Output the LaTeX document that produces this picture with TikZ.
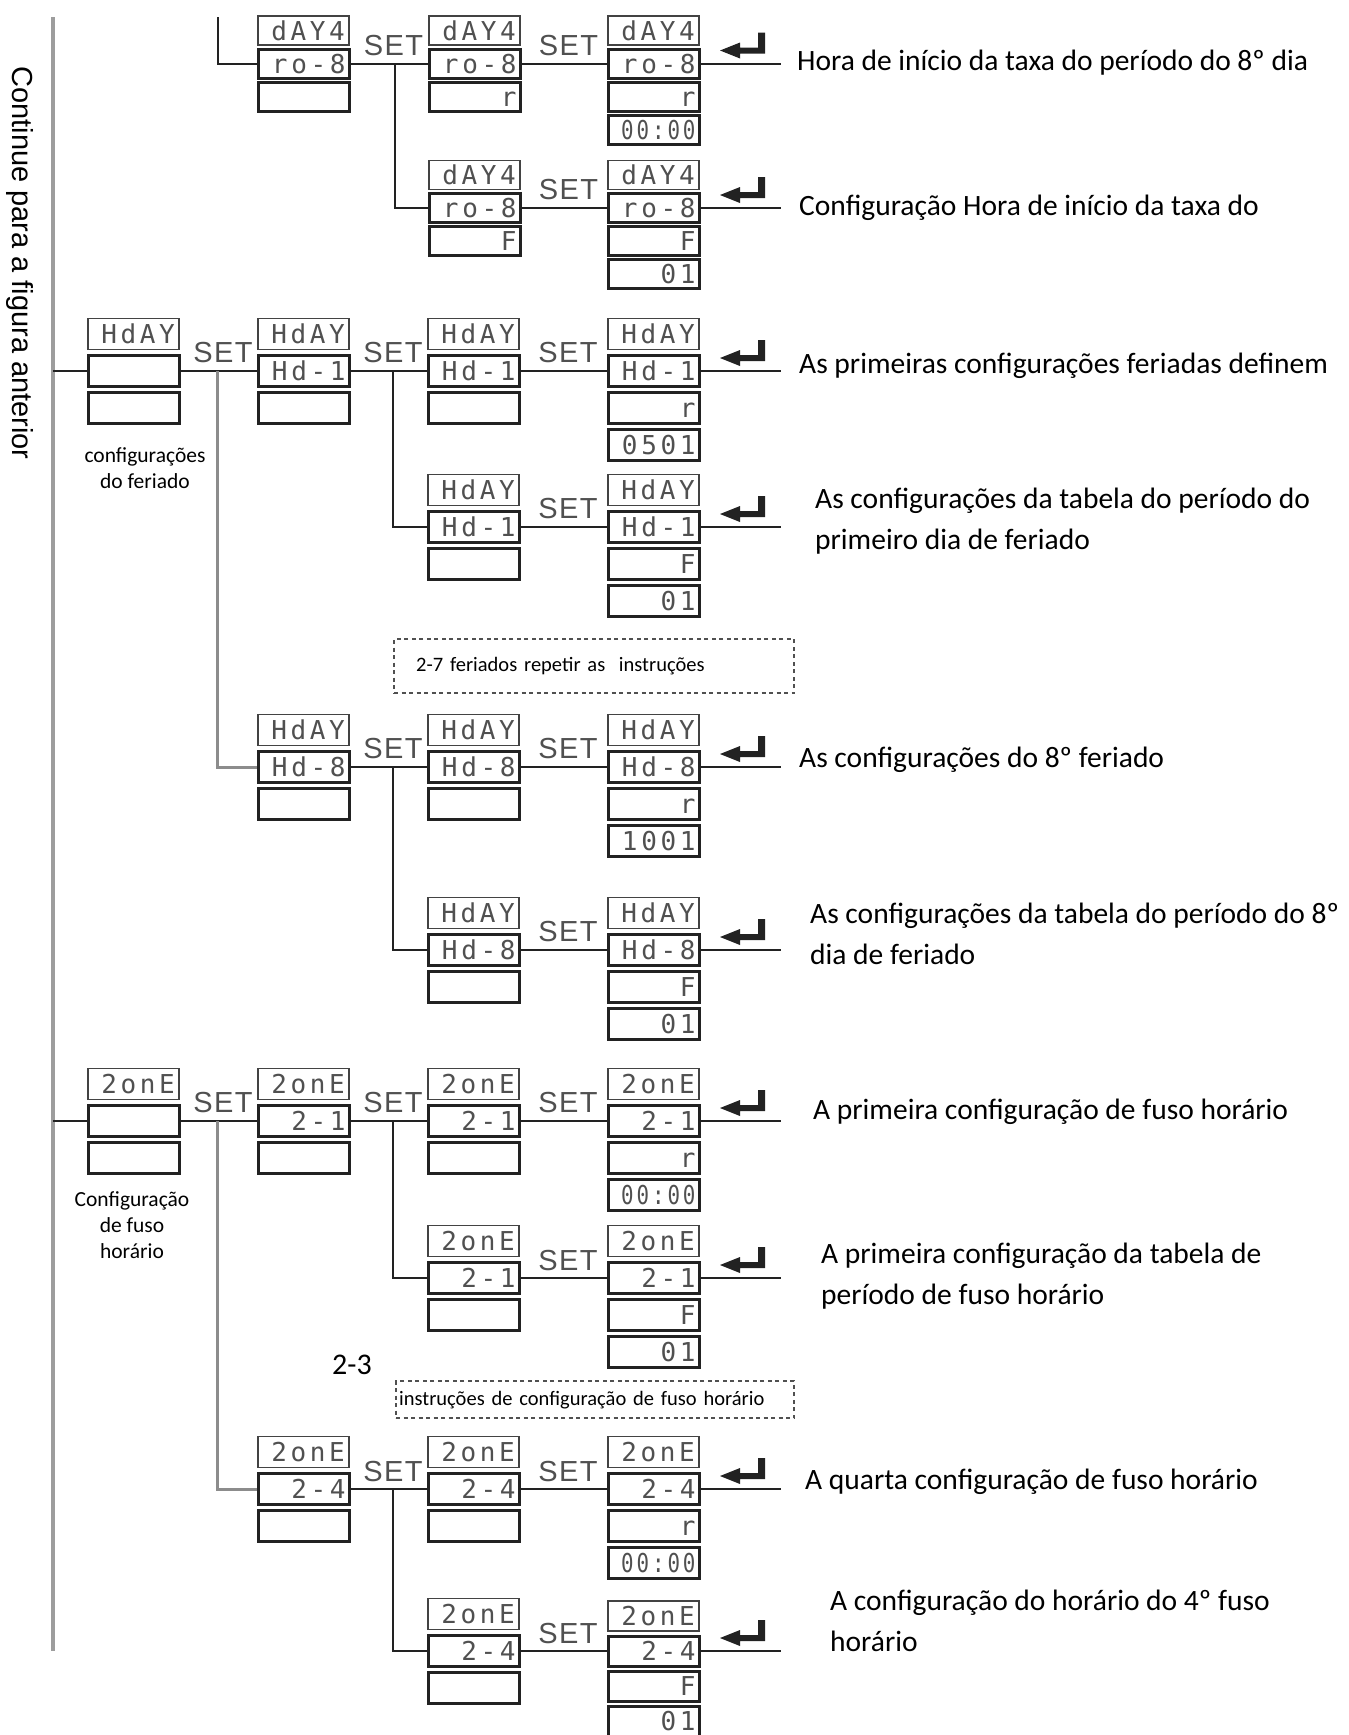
\documentclass[tikz,border=0pt]{standalone}
\usepackage{fontspec}
\usepackage{graphicx}
\setmainfont{Carlito}
\newfontfamily\lcdfont[LetterSpace=14]{DejaVu Sans Mono}
\newfontfamily\helv{Liberation Sans}
\newfontfamily\setfont[LetterSpace=5]{Liberation Sans}
\usetikzlibrary{calc}

\definecolor{ink}{HTML}{222222}
\definecolor{segink}{HTML}{505050}
\definecolor{spinegray}{HTML}{8C8C8C}

\tikzset{
  lcdbase/.style={draw, rectangle, inner xsep=4pt, inner ysep=0pt, text width=83pt,
    align=right, font=\lcdfont\fontsize{26}{26}\selectfont, text=segink,
    text height=19pt, text depth=0pt, anchor=west},
  lcdfirst/.style={lcdbase, line width=1.6pt, draw=ink!85},
  lcdrest/.style={lcdbase, line width=3pt, draw=ink},
  lcdrow/.code={\ifnum#1=1 \tikzset{lcdfirst}\else\tikzset{lcdrest}\fi},
  conn/.style={draw=ink, line width=2pt},
  graybranch/.style={draw=spinegray, line width=3pt},
  setlbl/.style={font=\setfont\fontsize{29}{29}\selectfont, text=segink, inner sep=0pt},
  note/.style={font=\fontsize{29.5}{41}\selectfont, text=black, align=left, anchor=west, inner sep=0pt},
  smalltxt/.style={font=\fontsize{21.5}{26}\selectfont, align=center, inner sep=0pt},
  dashbox/.style={draw=segink, dash pattern=on 4pt off 3.5pt, line width=2.4pt, rectangle,
    anchor=north west, align=left, font=\fontsize{20.5}{24}\selectfont},
}

% a stacked LCD display: name, left x, centre y of row 2, row pitch, row height, row texts
\newcommand\lcdbox[6]{%
  \foreach \txt [count=\k] in {#6}{%
    \node[lcdrow=\k, minimum height=#5pt] (#1-\k) at (#2, {#3+(\k-2)*#4}) {\txt};
  }}

% SET label between two displays, joined at row 2
\newcommand\setlink[3]{%
  \draw[conn] (#1-2.east) -- (#2-2.west);
  \node[setlbl] (#3) at ($(#1-2.east)!0.5!(#2-2.west)+(4,-18)$) {SET};
}

% lead-out line with the return symbol after a final display
\newcommand\enterlead[2]{%
  \coordinate (#2) at ($(#1-2.east)+(80,0)$);
  \draw[conn] (#1-2.east) -- (#2);
  \begin{scope}[shift={(#1-2.east)}]
    \fill[ink] (19,-13) -- (39,-21) -- (39,-16) -- (57,-16) -- (57,-31) -- (64,-31)
      -- (64,-10) -- (39,-10) -- (39,-5) -- cycle;
  \end{scope}
}

\newcommand\hhmm{\scalebox{0.8}[1]{00:00}}

\begin{document}
\begin{tikzpicture}[x=1pt, y=-1pt]
\fill[white] (0,0) rectangle (1349,1735);
\useasboundingbox (0,0) rectangle (1349,1735);

% side label and spine
\node[rotate=-90, font=\helv\fontsize{29}{29}\selectfont, inner sep=0pt] (cont) at (20,263)
  {Continue para a figura anterior};
\coordinate (spineTop) at (53,17);
\coordinate (spineBot) at (53,1651);
\draw[draw=spinegray!85, line width=4.5pt] (spineTop) -- (spineBot);

% ---------- 8th day rate table ----------
\lcdbox{D1}{257}{63.5}{33}{29}{dAY4,ro-8,{}}
\lcdbox{D2}{428}{63.5}{33}{29}{dAY4,ro-8,r}
\lcdbox{D3}{607}{63.5}{33}{29}{dAY4,ro-8,r,\hhmm}
\lcdbox{D4}{428}{208}{33}{29}{dAY4,ro-8,F}
\lcdbox{D5}{607}{208}{33}{29}{dAY4,ro-8,F,01}

\coordinate (dIn) at (218,17);
\draw[conn] (dIn) |- (D1-2.west);
\setlink{D1}{D2}{setD1}
\setlink{D2}{D3}{setD2}
\setlink{D4}{D5}{setD4}
\coordinate (dBr) at (395,0);
\draw[conn] (dBr |- D1-2.east) |- (D4-2.west);
\enterlead{D3}{endD3}
\enterlead{D5}{endD5}

\node[note] (nD3) at (797,63) {Hora de início da taxa do período do 8º dia};
\node[note] (nD5) at (799,208) {Configuração Hora de início da taxa do};

% ---------- holiday settings ----------
\lcdbox{H0}{87}{371}{37}{31}{HdAY,{},{}}
\lcdbox{H1}{257}{371}{37}{31}{HdAY,Hd-1,{}}
\lcdbox{H2}{427}{371}{37}{31}{HdAY,Hd-1,{}}
\lcdbox{H3}{607}{371}{37}{31}{HdAY,Hd-1,r,0501}
\lcdbox{H2b}{427}{527}{37}{31}{HdAY,Hd-1,{}}
\lcdbox{H3b}{607}{527}{37}{31}{HdAY,Hd-1,F,01}
\lcdbox{H1b}{257}{767}{37}{31}{HdAY,Hd-8,{}}
\lcdbox{H4}{427}{767}{37}{31}{HdAY,Hd-8,{}}
\lcdbox{H5}{607}{767}{37}{31}{HdAY,Hd-8,r,1001}
\lcdbox{H4b}{427}{950}{37}{31}{HdAY,Hd-8,{}}
\lcdbox{H5b}{607}{950}{37}{31}{HdAY,Hd-8,F,01}

\draw[conn] (spineTop |- H0-2.west) -- (H0-2.west);
\setlink{H0}{H1}{setH0}
\setlink{H1}{H2}{setH1}
\setlink{H2}{H3}{setH2}
\setlink{H2b}{H3b}{setH2b}
\setlink{H1b}{H4}{setH1b}
\setlink{H4}{H5}{setH4}
\setlink{H4b}{H5b}{setH4b}
\coordinate (hBrA) at (217,0);
\coordinate (hBrB) at (393,0);
\draw[graybranch] (hBrA |- H0-2.east) |- (H1b-2.west);
\draw[conn] (hBrB |- H1-2.east) |- (H2b-2.west);
\draw[conn] (hBrB |- H4-2.west) |- (H4b-2.west);
\enterlead{H3}{endH3}
\enterlead{H3b}{endH3b}
\enterlead{H5}{endH5}
\enterlead{H5b}{endH5b}

\node[smalltxt] (lblH) at (145,468) {configurações\\do feriado};
\node[dashbox, minimum width=400pt, minimum height=54pt, inner xsep=22pt, text width=356pt]
  (repH) at (393,638) {2-7 feriados repetir as \ instruções};

\node[note] (nH3) at (799,366) {As primeiras configurações feriadas definem};
\node[note] (nH3b) at (815,521.5) {As configurações da tabela do período do\\primeiro dia de feriado};
\node[note] (nH5) at (799,760) {As configurações do 8º feriado};
\node[note] (nH5b) at (810,933.5) {As configurações da tabela do período do 8º\\dia de feriado};

% ---------- time zone settings ----------
\lcdbox{Z0}{87}{1121}{37}{31}{2onE,{},{}}
\lcdbox{Z1}{257}{1121}{37}{31}{2onE,2-1,{}}
\lcdbox{Z2}{427}{1121}{37}{31}{2onE,2-1,{}}
\lcdbox{Z3}{607}{1121}{37}{31}{2onE,2-1,r,\hhmm}
\lcdbox{Z2b}{427}{1278}{37}{31}{2onE,2-1,{}}
\lcdbox{Z3b}{607}{1278}{37}{31}{2onE,2-1,F,01}
\lcdbox{Z1b}{257}{1489}{37}{31}{2onE,2-4,{}}
\lcdbox{Z4}{427}{1489}{37}{31}{2onE,2-4,{}}
\lcdbox{Z5}{607}{1489}{37}{31}{2onE,2-4,r,\hhmm}
\lcdbox{Z4b}{427}{1651}{37}{31}{2onE,2-4,{}}
\lcdbox{Z5b}{607}{1651}{35}{30}{2onE,2-4,F,01}

\draw[conn] (spineTop |- Z0-2.west) -- (Z0-2.west);
\setlink{Z0}{Z1}{setZ0}
\setlink{Z1}{Z2}{setZ1}
\setlink{Z2}{Z3}{setZ2}
\setlink{Z2b}{Z3b}{setZ2b}
\setlink{Z1b}{Z4}{setZ1b}
\setlink{Z4}{Z5}{setZ4}
\setlink{Z4b}{Z5b}{setZ4b}
\draw[graybranch] (hBrA |- Z0-2.east) |- (Z1b-2.west);
\draw[conn] (hBrB |- Z1-2.east) |- (Z2b-2.west);
\draw[conn] (hBrB |- Z4-2.west) |- (Z4b-2.west);
\enterlead{Z3}{endZ3}
\enterlead{Z3b}{endZ3b}
\enterlead{Z5}{endZ5}
\enterlead{Z5b}{endZ5b}

\node[smalltxt] (lblZ) at (132,1225) {Configuração\\de fuso\\horário};
\node[dashbox, minimum width=398pt, minimum height=37pt, inner xsep=3pt, text width=392pt]
  (repZ) at (395,1380) {instruções de configuração de fuso horário};
\node[font=\fontsize{30}{30}\selectfont, inner sep=0pt] (rangeZ) at (352,1365) {2-3};

\node[note] (nZ3) at (813,1112) {A primeira configuração de fuso horário};
\node[note] (nZ3b) at (821,1276.5) {A primeira configuração da tabela de\\período de fuso horário};
\node[note] (nZ5) at (805,1482) {A quarta configuração de fuso horário};
\node[note] (nZ5b) at (830,1621) {A configuração do horário do 4º fuso\\horário};
\end{tikzpicture}
\end{document}
